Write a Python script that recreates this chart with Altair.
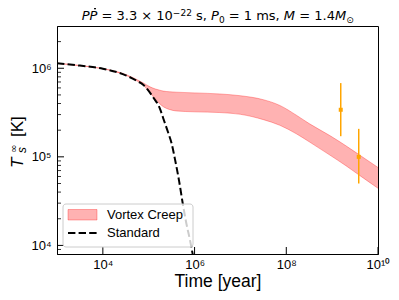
import altair as alt
import pandas as pd

# ---- data (exponents read on the log axes) ----
band_logt = [3.0, 3.5, 4.0, 4.5, 4.75, 4.88, 5.03, 5.15, 5.24, 5.32, 5.45, 5.6, 6.0,
             6.55, 7.0, 7.5, 7.86, 8.22, 8.5, 8.95, 9.3, 9.6, 10.0]
band_upper = [6.056, 6.03, 5.995, 5.93, 5.87, 5.835, 5.79, 5.765, 5.752, 5.742, 5.735, 5.73, 5.722,
              5.71, 5.69, 5.645, 5.58, 5.47, 5.375, 5.24, 5.125, 5.02, 4.88]
band_lower = [6.056, 6.03, 5.995, 5.92, 5.855, 5.81, 5.72, 5.65, 5.60, 5.565, 5.535, 5.518, 5.508,
              5.50, 5.48, 5.42, 5.356, 5.26, 5.17, 5.02, 4.90, 4.79, 4.645]

std_logt = [3.0, 3.5, 4.0, 4.5, 4.75, 4.88, 5.1, 5.24, 5.32, 5.42, 5.5, 5.57, 5.665,
            5.74, 5.82, 5.9, 5.96, 6.0]
std_logT = [6.056, 6.03, 5.995, 5.92, 5.855, 5.815, 5.67, 5.55, 5.43, 5.28, 5.15, 4.98, 4.72,
            4.48, 4.25, 4.06, 3.90, 3.80]

obs_t = [1.54e9, 3.8e9]
obs_T = [3.4e5, 1.0e5]
obs_lo = [1.71e5, 5.0e4]
obs_hi = [6.8e5, 2.07e5]

x_ticks = [1e4, 1e6, 1e8, 1e10]
x_labels = ["10⁴", "10⁶", "10⁸", "10¹⁰"]
y_ticks = [1e4, 1e5, 1e6]
y_labels = ["10⁴", "10⁵", "10⁶"]
y_minor = [9e3, 2e4, 3e4, 4e4, 5e4, 6e4, 7e4, 8e4, 9e4,
           2e5, 3e5, 4e5, 5e5, 6e5, 7e5, 8e5, 9e5, 2e6]

# title pieces: (text, style) -- style: n normal, i italic, sup, sub
title_parts = [("PP", "i"), (" = 3.3 × 10", "n"), ("−22", "sup"), (" s, ", "n"),
               ("P", "i"), ("0", "sub"), (" = 1 ms, ", "n"), ("M", "i"),
               (" = 1.4", "n"), ("M", "i"), ("⊙", "sub")]
legend_names = ["Vortex Creep", "Standard"]

FONT = "Liberation Sans"
TFONT = "DejaVu Sans"
W, H = 321, 228
DASH = [7.4, 3.2]

band = pd.DataFrame({"t": [10 ** v for v in band_logt],
                     "up": [10 ** v for v in band_upper],
                     "lo": [10 ** v for v in band_lower]})
std = pd.DataFrame({"t": [10 ** v for v in std_logt], "T": [10 ** v for v in std_logT]})
obs = pd.DataFrame({"t": obs_t, "T": obs_T, "lo": obs_lo, "hi": obs_hi})

xsc = alt.Scale(type="log", domain=[1e3, 1e10], nice=False)
ysc = alt.Scale(type="log", domain=[8e3, 3e6], nice=False)

def label_expr(vals, labs):
    parts = []
    for v, l in zip(vals, labs):
        parts.append(f"abs(datum.value - {v:g}) < {v*1e-6:g} ? '{l}'")
    return " : ".join(parts) + " : ''"

x_axis = alt.Axis(values=x_ticks, labelExpr=label_expr(x_ticks, x_labels), ticks=False,
                  grid=False, labelPadding=4, labelFontSize=13, labelFont=FONT,
                  labelColor="black", domainColor="black", title="Time [year]",
                  titleFontSize=17.5, titleFont=FONT, titleFontWeight="normal",
                  titleColor="black", titlePadding=1, labelFlush=False)
y_axis = alt.Axis(values=y_ticks, labelExpr=label_expr(y_ticks, y_labels), ticks=False,
                  grid=False, labelPadding=6, labelFontSize=13, labelFont=FONT,
                  labelColor="black", domainColor="black", title=None)

area = alt.Chart(band).mark_area(color="red", opacity=0.3, interpolate="monotone", clip=True).encode(
    x=alt.X("t:Q", scale=xsc, axis=x_axis),
    y=alt.Y("up:Q", scale=ysc, axis=y_axis),
    y2="lo:Q",
)
edge_up = alt.Chart(band).mark_line(color="red", opacity=0.3, strokeWidth=1,
                                    interpolate="monotone", clip=True).encode(
    x=alt.X("t:Q", scale=xsc), y=alt.Y("up:Q", scale=ysc))
edge_lo = alt.Chart(band).mark_line(color="red", opacity=0.3, strokeWidth=1,
                                    interpolate="monotone", clip=True).encode(
    x=alt.X("t:Q", scale=xsc), y=alt.Y("lo:Q", scale=ysc))

std_line = alt.Chart(std).mark_line(color="black", strokeWidth=2, strokeDash=DASH,
                                    interpolate="monotone", clip=True).encode(
    x=alt.X("t:Q", scale=xsc), y=alt.Y("T:Q", scale=ysc))

err = alt.Chart(obs).mark_rule(color="orange", strokeWidth=1.5).encode(
    x=alt.X("t:Q", scale=xsc), y=alt.Y("lo:Q", scale=ysc), y2="hi:Q")
pts = alt.Chart(obs).mark_square(color="orange", size=16, opacity=1).encode(
    x=alt.X("t:Q", scale=xsc), y=alt.Y("T:Q", scale=ysc))

# inward ticks
xt = alt.Chart(pd.DataFrame({"v": x_ticks})).mark_rule(color="black", strokeWidth=1).encode(
    x=alt.X("v:Q", scale=xsc), y=alt.value(H), y2=alt.value(H - 7))
yt = alt.Chart(pd.DataFrame({"v": y_ticks})).mark_rule(color="black", strokeWidth=1).encode(
    y=alt.Y("v:Q", scale=ysc), x=alt.value(0), x2=alt.value(7))
ym = alt.Chart(pd.DataFrame({"v": y_minor})).mark_rule(color="black", strokeWidth=0.8).encode(
    y=alt.Y("v:Q", scale=ysc), x=alt.value(0), x2=alt.value(4))

# legend
one = pd.DataFrame({"a": [0]})
leg_box = alt.Chart(one).mark_rect(fill="white", fillOpacity=0.8, stroke="#cccccc",
                                   strokeWidth=1, cornerRadius=3).encode(
    x=alt.value(6), x2=alt.value(136), y=alt.value(178), y2=alt.value(221))
leg_patch = alt.Chart(one).mark_rect(fill="red", fillOpacity=0.3, stroke="red",
                                     strokeOpacity=0.3, strokeWidth=1).encode(
    x=alt.value(11), x2=alt.value(40), y=alt.value(183.5), y2=alt.value(194))
leg_dash = alt.Chart(one).mark_rule(color="black", strokeWidth=2, strokeDash=DASH).encode(
    x=alt.value(11), x2=alt.value(40), y=alt.value(207))
leg_t1 = alt.Chart(one).mark_text(text=legend_names[0], align="left", baseline="middle",
                                  font=FONT, fontSize=13, color="black").encode(
    x=alt.value(50), y=alt.value(189))
leg_t2 = alt.Chart(one).mark_text(text=legend_names[1], align="left", baseline="middle",
                                  font=FONT, fontSize=13, color="black").encode(
    x=alt.value(50), y=alt.value(207))

# y-axis title T_s^inf [K]
def rot_text(txt, x, y, size, italic=False, font=FONT):
    kw = dict(text=txt, angle=270, align="left", baseline="alphabetic",
              font=font, fontSize=size, color="black")
    if italic:
        kw["fontStyle"] = "italic"
    return alt.Chart(one).mark_text(**kw).encode(x=alt.value(x), y=alt.value(y))

ytitle = [rot_text("T", -34, 142, 17, True),
          rot_text("∞", -40, 127, 10, font="DejaVu Sans"),
          rot_text("s", -31, 127, 12, True),
          rot_text("[K]", -34, 111, 17)]

# chart title built from pieces (DejaVu Sans advance widths, units per 1000 em)
ADV = {"P": 603, "M": 863, " ": 318, "=": 838, "3": 636, ".": 318, "×": 838, "1": 636,
       "0": 636, "−": 838, "2": 636, "s": 521, ",": 318, "m": 974, "4": 636, "⊙": 800}
MAIN, SMALL = 13, 9
def piece_width(txt, size):
    return sum(ADV.get(c, 600) for c in txt) * size / 1000.0

total = sum(piece_width(t, SMALL if s in ("sup", "sub") else MAIN) for t, s in title_parts)
x0 = W / 2.0 - total / 2.0
BASE = -6
title_layers = []
cur = x0
for txt, style in title_parts:
    size = SMALL if style in ("sup", "sub") else MAIN
    yb = BASE - 4 if style == "sup" else (BASE + 2.5 if style == "sub" else BASE)
    lead = len(txt) - len(txt.lstrip(" "))
    shown = txt.strip(" ")
    kw = dict(text=shown, align="left", baseline="alphabetic", fontSize=size, color="black",
              font=TFONT)
    if style == "i":
        kw["fontStyle"] = "italic"
    xpos = cur + piece_width(" " * lead, size)
    title_layers.append(alt.Chart(one).mark_text(**kw).encode(x=alt.value(xpos), y=alt.value(yb)))
    cur += piece_width(txt, size)
# dot over the second P of "PP"
pw = piece_width("P", MAIN)
dot = alt.Chart(one).mark_circle(color="black", size=4, opacity=1).encode(
    x=alt.value(x0 + pw + 5.5), y=alt.value(BASE - 11.5))

chart = alt.layer(area, edge_up, edge_lo, std_line, err, pts, xt, yt, ym,
                  leg_box, leg_patch, leg_dash, leg_t1, leg_t2,
                  *ytitle, *title_layers, dot).properties(
    width=W, height=H,
    autosize=alt.AutoSizeParams(type="none"),
    padding={"left": 49, "top": 18, "right": 13, "bottom": 38},
).configure_view(stroke="black", strokeWidth=1)

chart.save("out.html", embed_options={"renderer": "svg", "actions": False})
